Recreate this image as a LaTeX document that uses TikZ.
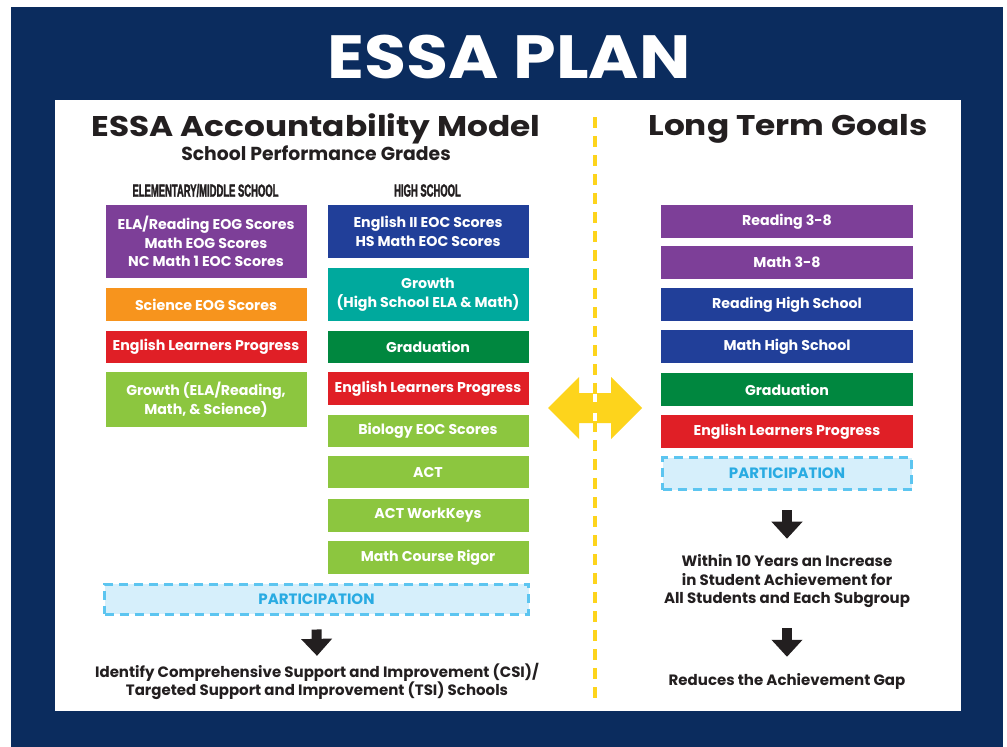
\documentclass[tikz,border=0pt]{standalone}
\usepackage{fontspec}
\setmainfont{Poppins}
\newfontfamily\widefont{Poppins}[FakeStretch=1.15]
\newfontfamily\titlefont{Poppins}[FakeStretch=1.12]
\newfontfamily\condfont{Liberation Sans}[FakeStretch=0.54,FakeBold=1.5]
\usetikzlibrary{arrows.meta}
\definecolor{navy}{HTML}{0B2C5E}
\definecolor{cpurple}{HTML}{7D3F98}
\definecolor{corange}{HTML}{F7941D}
\definecolor{cred}{HTML}{E01F26}
\definecolor{clime}{HTML}{8CC63F}
\definecolor{cblue}{HTML}{213F99}
\definecolor{cteal}{HTML}{00A99D}
\definecolor{cgreen}{HTML}{00873F}
\definecolor{ccyan}{HTML}{29ABE2}
\definecolor{cdash}{HTML}{5CC5F0}
\definecolor{cpale}{HTML}{D6EFFB}
\definecolor{cyellow}{HTML}{FDD41C}
\definecolor{ink}{HTML}{231F20}
\tikzset{
  box/.style={rectangle, inner sep=0pt, minimum width=201pt, text=white,
    font=\fontsize{14.2}{18.7}\selectfont\bfseries, align=center},
  rbox/.style={box, minimum width=252pt, minimum height=33pt},
  partbox/.style={rectangle, draw=cdash, fill=cpale, line width=3pt,
    dash pattern=on 9pt off 6pt, text=ccyan, inner sep=0pt,
    font=\fontsize{15}{16}\selectfont\bfseries},
  bigarrow/.style={draw=ink, line width=10pt, -{Triangle[width=30pt,length=17pt]}},
  outtext/.style={text=ink, font=\fontsize{15}{18.5}\selectfont\bfseries, align=center, inner sep=0pt},
  heading/.style={text=ink, font=\widefont\fontsize{28.5}{30}\selectfont\bfseries, inner sep=0pt},
  colhead/.style={text=ink, font=\condfont\fontsize{17.5}{18}\selectfont\bfseries, inner sep=0pt},
}
\begin{document}
\begin{tikzpicture}[x=1pt,y=-1pt]
\useasboundingbox (0,0) rectangle (1007,747);
\fill[white] (0,0) rectangle (1007,747);
\fill[navy] (11,7) rectangle (1003,747);
\fill[white] (55,100) rectangle (961,711);

\node[text=white, font=\titlefont\fontsize{61}{64}\selectfont\bfseries, inner sep=0pt] (title) at (509,57) {ESSA PLAN};

% divider line
\draw[cyellow, line width=4pt, dash pattern=on 11pt off 8pt] (595,117) -- (595,702);

% double arrow
\fill[cyellow] (548,408) -- (579,377) -- (579,393) -- (611,393) -- (611,377) -- (642,408)
  -- (611,439) -- (611,423) -- (579,423) -- (579,439) -- cycle;
\begin{scope}
\clip (548,408) -- (579,377) -- (579,393) -- (611,393) -- (611,377) -- (642,408)
  -- (611,439) -- (611,423) -- (579,423) -- (579,439) -- cycle;
\draw[white, line width=4pt, dash pattern=on 8pt off 11pt, dash phase=8pt] (595,117) -- (595,702);
\end{scope}

% headings
\node[heading] (hleft) at (316,129) {ESSA Accountability Model};
\node[text=ink, font=\fontsize{18.8}{20}\selectfont\bfseries, inner sep=0pt] (hsub) at (316,153) {School Performance Grades};
\node[heading] (hright) at (788,129) {Long Term Goals};

\node[colhead] (chE) at (205.5,190.5) {ELEMENTARY/MIDDLE SCHOOL};
\node[colhead] (chH) at (427.5,190.5) {HIGH SCHOOL};

% elementary / middle
\node[box, fill=cpurple, minimum height=73pt] (e1) at (206,241.5) {ELA/Reading EOG Scores\\Math EOG Scores\\NC Math 1 EOC Scores};
\node[box, fill=corange, minimum height=33pt] (e2) at (206,304.5) {Science EOG Scores};
\node[box, fill=cred, minimum height=32pt] (e3) at (206,347) {English Learners Progress};
\node[box, fill=clime, minimum height=55pt] (e4) at (206,399.5) {Growth (ELA/Reading,\\Math, \& Science)};

% high school
\node[box, fill=cblue, minimum height=53pt] (s1) at (428,231.5) {English II EOC Scores\\HS Math EOC Scores};
\node[box, fill=cteal, minimum height=53pt] (s2) at (428,294.5) {Growth\\(High School ELA \& Math)};
\node[box, fill=cgreen, minimum height=32pt] (s3) at (428,347) {Graduation};
\node[box, fill=cred, minimum height=33pt] (s4) at (428,388.5) {English Learners Progress};
\node[box, fill=clime, minimum height=32pt] (s5) at (428,431) {Biology EOC Scores};
\node[box, fill=clime, minimum height=32pt] (s6) at (428,472) {ACT};
\node[box, fill=clime, minimum height=33pt] (s7) at (428,515.5) {ACT WorkKeys};
\node[box, fill=clime, minimum height=33pt] (s8) at (428,557.5) {Math Course Rigor};

\node[partbox, minimum width=424pt, minimum height=30pt] (p1) at (316.5,599) {PARTICIPATION};

\node[outtext] (csi) at (317,681.5) {Identify Comprehensive Support and Improvement (CSI)/\\Targeted Support and Improvement (TSI) Schools};

\draw[bigarrow] ([yshift=-14pt]p1.south) -- ([yshift=7pt]csi.north);

% long term goals
\node[rbox, fill=cpurple] (g1) at (787,221.5) {Reading 3-8};
\node[rbox, fill=cpurple] (g2) at (787,262.5) {Math 3-8};
\node[rbox, fill=cblue] (g3) at (787,304.5) {Reading High School};
\node[rbox, fill=cblue] (g4) at (787,346.5) {Math High School};
\node[rbox, fill=cgreen] (g5) at (787,389.5) {Graduation};
\node[rbox, fill=cred] (g6) at (787,431.5) {English Learners Progress};
\node[partbox, minimum width=249pt, minimum height=32pt] (p2) at (787,473.5) {PARTICIPATION};

\node[outtext] (ach) at (787,581.5) {Within 10 Years an Increase\\in Student Achievement for\\All Students and Each Subgroup};
\node[outtext] (gap) at (787,681) {Reduces the Achievement Gap};

\draw[bigarrow] ([yshift=-19pt]p2.south) -- ([yshift=16pt]ach.north);
\draw[bigarrow] ([yshift=-20pt]ach.south) -- ([yshift=16pt]gap.north);
\end{tikzpicture}
\end{document}
